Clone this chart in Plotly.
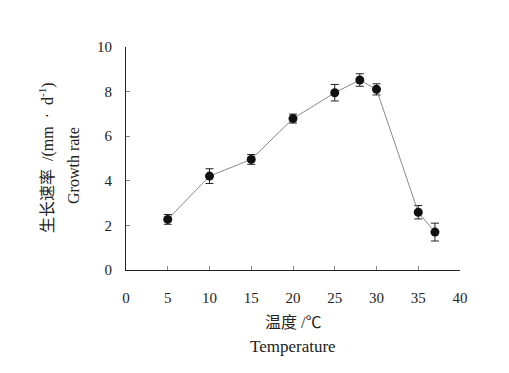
import plotly.graph_objects as go

temperature = [5, 10, 15, 20, 25, 28, 30, 35, 37]
growth_rate = [2.27, 4.21, 4.96, 6.79, 7.95, 8.52, 8.10, 2.59, 1.70]
error = [0.22, 0.33, 0.22, 0.2, 0.37, 0.28, 0.25, 0.3, 0.4]
x_ticks = [0, 5, 10, 15, 20, 25, 30, 35, 40]
y_ticks = [0, 2, 4, 6, 8, 10]

FONT = "Liberation Serif, Noto Sans CJK SC, serif"

fig = go.Figure()
fig.add_trace(go.Scatter(
    x=temperature, y=growth_rate, mode="lines+markers",
    line=dict(color="#8a8a8a", width=1),
    marker=dict(color="#111111", size=9),
    error_y=dict(type="data", array=error, visible=True, color="#222222", thickness=1, width=4),
    showlegend=False,
))

# page body has an 8px margin, so the figure is shifted by 8px
W, H = 501, 365
L, T, R, B = 118, 39, 49, 103
pw = W - L - R
ph = H - T - B

def px_x(p):
    return (p - 8 - L) / pw

def px_y(p):
    return 1 - (p - 8 - T) / ph

fig.update_layout(
    width=W, height=H,
    margin=dict(l=L, r=R, t=T, b=B),
    paper_bgcolor="white", plot_bgcolor="white",
    font=dict(family=FONT, size=15, color="#222222"),
    xaxis=dict(range=[0, 40], tickvals=x_ticks, ticks="inside", ticklen=4,
               showline=True, linecolor="#222222", linewidth=1, showgrid=False,
               zeroline=False, ticklabelstandoff=14, tickcolor="#888888"),
    yaxis=dict(range=[0, 10], tickvals=y_ticks, ticks="inside", ticklen=4,
               showline=True, linecolor="#222222", linewidth=1, showgrid=False,
               zeroline=False, ticklabelstandoff=10, tickcolor="#888888"),
    annotations=[
        dict(text="温度 /℃", xref="paper", yref="paper", x=px_x(293), y=px_y(322),
             showarrow=False, font=dict(size=16), xanchor="center", yanchor="middle"),
        dict(text="Temperature", xref="paper", yref="paper", x=px_x(293), y=px_y(346),
             showarrow=False, font=dict(size=17), xanchor="center", yanchor="middle"),
        dict(text="生长速率&nbsp;&nbsp;/(mm&nbsp;&nbsp;·&nbsp;&nbsp;d<sup>-1</sup>)", xref="paper", yref="paper",
             x=px_x(46), y=px_y(158), textangle=-90,
             showarrow=False, font=dict(size=16), xanchor="center", yanchor="middle"),
        dict(text="Growth rate", xref="paper", yref="paper",
             x=px_x(73), y=px_y(166), textangle=-90,
             showarrow=False, font=dict(size=16), xanchor="center", yanchor="middle"),
    ],
)

fig.write_html("out.html")
